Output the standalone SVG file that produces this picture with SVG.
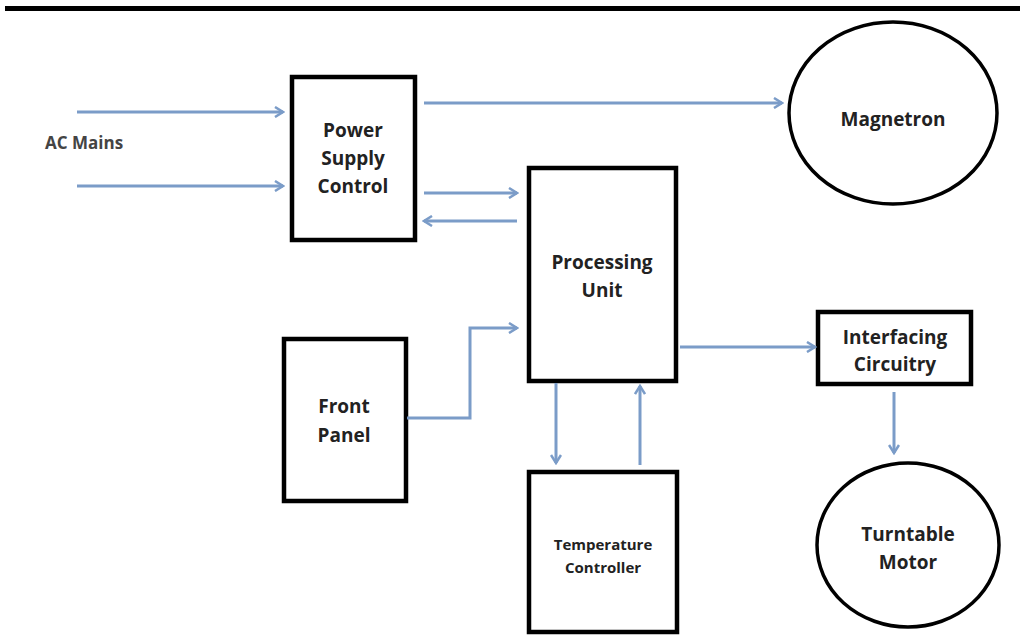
<svg xmlns="http://www.w3.org/2000/svg" width="1020" height="641" viewBox="0 0 1020 641">
<defs>
<marker id="ah" viewBox="0 0 12 12" refX="10" refY="6" markerWidth="12" markerHeight="12" markerUnits="userSpaceOnUse" orient="auto">
<path d="M2,1 L10,6 L2,11" fill="none" stroke="#7b9cc8" stroke-width="2.5"/>
</marker>
</defs>
<style>
.box{fill:#fff;stroke:#000;stroke-width:4.5}
.ell{fill:#fff;stroke:#000;stroke-width:3.5}
.c{fill:none;stroke:#7b9cc8;stroke-width:3;marker-end:url(#ah)}
.t{font-family:"Open Sans","Liberation Sans",sans-serif;font-weight:bold;font-size:19px;fill:#222;text-anchor:middle}
.s{font-size:15px}
</style>
<rect width="1020" height="641" fill="#fff"/>
<rect x="5" y="6" width="1015" height="5" fill="#000"/>
<text x="45" y="149" style="font-family:'Open Sans','Liberation Sans',sans-serif;font-weight:bold;font-size:17px;fill:#444">AC Mains</text>
<g id="psc"><rect class="box" x="292" y="77" width="123" height="163"/>
<text class="t" x="353" y="137">Power</text><text class="t" x="353" y="165">Supply</text><text class="t" x="353" y="193">Control</text></g>
<g id="pu"><rect class="box" x="529" y="168" width="147" height="213"/>
<text class="t" x="602" y="269">Processing</text><text class="t" x="602" y="297">Unit</text></g>
<g id="fp"><rect class="box" x="284" y="339" width="122" height="162"/>
<text class="t" x="344" y="413">Front</text><text class="t" x="344" y="442">Panel</text></g>
<g id="tc"><rect class="box" x="529" y="472" width="148" height="160"/>
<text class="t s" x="603" y="550">Temperature</text><text class="t s" x="603" y="573">Controller</text></g>
<g id="ic"><rect class="box" x="818" y="312" width="153" height="72"/>
<text class="t" x="895" y="344">Interfacing</text><text class="t" x="895" y="371">Circuitry</text></g>
<g id="mag"><ellipse class="ell" cx="893" cy="113" rx="104" ry="91"/>
<text class="t" x="893" y="126">Magnetron</text></g>
<g id="tm"><ellipse class="ell" cx="908" cy="545" rx="91" ry="82"/>
<text class="t" x="908" y="541">Turntable</text><text class="t" x="908" y="569">Motor</text></g>
<g id="connectors">
<path class="c" d="M77,112 H283"/>
<path class="c" d="M77,186 H283"/>
<path class="c" d="M424,103 H782"/>
<path class="c" d="M424,193 H517"/>
<path class="c" d="M517,221 H424"/>
<path class="c" d="M407,418 H470 V328 H517"/>
<path class="c" d="M680,347 H815"/>
<path class="c" d="M556,383 V463"/>
<path class="c" d="M640,465 V386"/>
<path class="c" d="M894,392 V453"/>
</g>
</svg>
